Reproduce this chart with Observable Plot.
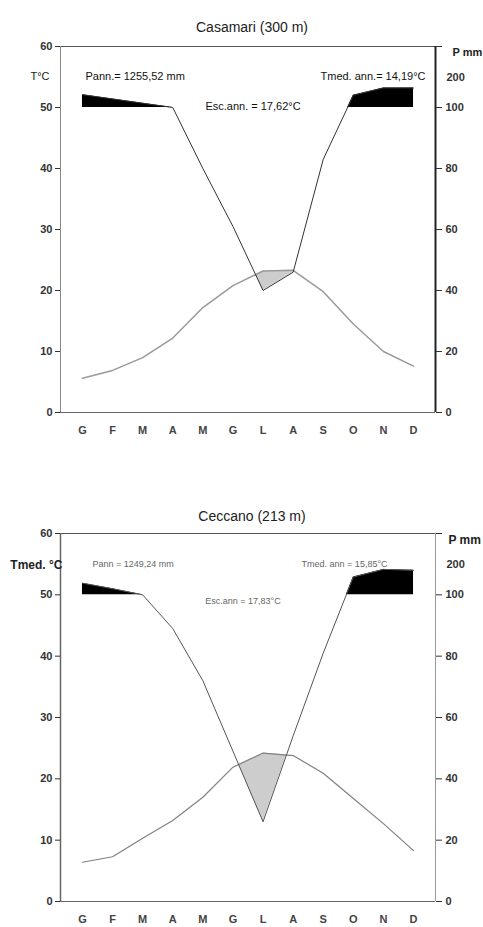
<!DOCTYPE html>
<html><head><meta charset="utf-8">
<script src="https://cdn.jsdelivr.net/npm/d3@7"></script>
<script src="https://cdn.jsdelivr.net/npm/@observablehq/plot@0.6"></script>
<style>body{margin:0;background:#fff} svg{display:block}</style>
</head><body><div id="chart"></div>
<script>
const months = ["G","F","M","A","M","G","L","A","S","O","N","D"];
const tempTicks = [0,10,20,30,40,50,60];
const precTicks = [0,20,40,60,80,100];
const precTopTick = 200;

const casamariTitle = "Casamari (300 m)";
const casamariTemp = [5.6, 6.9, 9.0, 12.2, 17.2, 20.8, 23.2, 23.3, 19.8, 14.5, 10.0, 7.6];
const casamariPrec = [142, 128, 114, 100, 80, 61, 40, 46, 83, 140, 164, 164];
const casamariNotes = ["Pann.= 1255,52 mm", "Tmed. ann.= 14,19°C", "Esc.ann. = 17,62°C"];
const casamariYLabel = "T°C";

const ceccanoTitle = "Ceccano (213 m)";
const ceccanoTemp = [6.4, 7.3, 10.3, 13.2, 17.0, 21.9, 24.2, 23.8, 20.9, 16.8, 12.7, 8.3];
const ceccanoPrec = [138, 120, 100, 89, 72, 49, 26, 54, 81, 158, 183, 180];
const ceccanoNotes = ["Pann = 1249,24 mm", "Tmed. ann = 15,85°C", "Esc.ann = 17,83°C"];
const ceccanoYLabel = "Tmed. °C";
const precLabel = "P mm";

// Walter-Lieth precipitation scale: 1 °C = 2 mm up to 100 mm, then 1 °C = 20 mm
const pScale = p => p <= 100 ? p / 2 : 50 + (p - 100) / 20;
const xDomain = [-0.73, 11.73];
const FONT = '"Liberation Sans", Arial, sans-serif';

function withCrossings(a, b) {
  const out = [];
  for (let i = 0; i < a.length; i++) {
    out.push({x: i, a: a[i], b: b[i]});
    if (i < a.length - 1) {
      const d0 = a[i] - b[i], d1 = a[i+1] - b[i+1];
      if (d0 * d1 < 0) {
        const t = d0 / (d0 - d1);
        out.push({x: i + t, a: a[i] + t * (a[i+1] - a[i]), b: b[i] + t * (b[i+1] - b[i])});
      }
    }
  }
  return out;
}

function panel(o) {
  const pS = o.prec.map(pScale);
  const black = withCrossings(pS, pS.map(() => 50)).map(d => ({x: d.x, y1: 50, y2: Math.max(d.a, 50)}));
  const gray = withCrossings(o.temp, pS).map(d => ({x: d.x, y1: d.b, y2: Math.max(d.a, d.b)}));
  const idx = d3.range(months.length);
  const rightLabels = new Map(precTicks.map(p => [pScale(p), String(p)]));
  return Plot.plot({
    width: 483, height: o.height,
    marginTop: o.mt, marginBottom: o.mb, marginLeft: 60, marginRight: 48,
    x: {type: "linear", domain: xDomain, axis: null},
    y: {domain: [0, 60], axis: null},
    style: {fontFamily: FONT, background: "#fff", overflow: "visible", color: "#222"},
    marks: [
      Plot.areaY(black, {x: "x", y1: "y1", y2: "y2", fill: "#000"}),
      Plot.areaY(gray, {x: "x", y1: "y1", y2: "y2", fill: "#cdcdcd"}),
      Plot.line(idx, {x: i => i, y: i => o.temp[i], stroke: o.tColor, strokeWidth: o.tWidth}),
      Plot.line(idx, {x: i => i, y: i => pS[i], stroke: o.pColor, strokeWidth: 1}),
      Plot.ruleY([0], {stroke: "#666", strokeWidth: 1}),
      Plot.ruleY([60], {stroke: "#555", strokeWidth: 1}),
      Plot.ruleX([xDomain[0]], {y1: 0, y2: 60, stroke: o.leftColor, strokeWidth: o.leftWidth}),
      Plot.ruleX([xDomain[1]], {y1: 0, y2: 60, stroke: o.rightColor, strokeWidth: o.rightWidth}),
      Plot.axisY({anchor: "left", label: null, ticks: tempTicks, tickSize: 5, tickPadding: 3, fontSize: 11, fontWeight: "bold", color: "#333"}),
      Plot.axisY({anchor: "right", label: null, ticks: [...precTicks.map(pScale), 60], tickFormat: v => rightLabels.get(v) ?? "", tickSize: 6, tickPadding: 4, fontSize: 11, fontWeight: "bold", color: "#333"}),
      Plot.axisY({anchor: "right", label: null, ticks: [pScale(precTopTick)], tickFormat: () => String(precTopTick), tickSize: 0, tickPadding: 11, fontSize: 11, fontWeight: "bold", color: "#333"}),
      Plot.axisX({anchor: "bottom", label: null, ticks: idx, tickFormat: i => months[i], tickSize: 0, tickPadding: 14, fontSize: 11, fontWeight: "bold", color: "#444"}),
      Plot.text([o.title], {frameAnchor: "top", dx: 4, dy: o.titleDy, fontSize: 14, fill: "#222"}),
      Plot.text([o.yLabel], {frameAnchor: "top-left", textAnchor: "end", dx: o.yLabelDx, dy: o.noteDy, fontSize: o.yLabelSize, fontWeight: o.yLabelWeight, fill: "#222"}),
      Plot.text([precLabel], {frameAnchor: "top-right", textAnchor: "start", dx: o.pLabelDx, dy: o.pLabelDy, fontSize: o.yLabelSize, fontWeight: "bold", fill: "#222"}),
      Plot.text([o.notes[0]], {frameAnchor: "top-left", textAnchor: "start", dx: o.pannDx, dy: o.noteDy, fontSize: o.noteSize, fill: o.noteColor}),
      Plot.text([o.notes[1]], {frameAnchor: "top-right", textAnchor: "end", dx: o.tmedDx, dy: o.noteDy, fontSize: o.noteSize, fill: o.noteColor}),
      Plot.text([o.notes[2]], {frameAnchor: "top", dx: o.escDx, dy: o.escDy, fontSize: o.escSize, fill: o.noteColor})
    ]
  });
}

const root = document.getElementById("chart");
root.append(panel({
  title: casamariTitle, temp: casamariTemp, prec: casamariPrec, notes: casamariNotes, yLabel: casamariYLabel,
  height: 463, mt: 46, mb: 51, titleDy: -24,
  tColor: "#9a9a9a", tWidth: 1.5, pColor: "#333", leftColor: "#888", leftWidth: 1, rightColor: "#222", rightWidth: 2,
  yLabelDx: -11, yLabelSize: 11, yLabelWeight: "normal", pLabelDx: 17, pLabelDy: 2,
  pannDx: 25, tmedDx: -10, noteDy: 26, noteSize: 11, noteColor: "#111", escDx: 5, escDy: 56, escSize: 11
}));
root.append(panel({
  title: ceccanoTitle, temp: ceccanoTemp, prec: ceccanoPrec, notes: ceccanoNotes, yLabel: ceccanoYLabel,
  height: 464, mt: 70, mb: 26, titleDy: -22,
  tColor: "#808080", tWidth: 1.2, pColor: "#555", leftColor: "#666", leftWidth: 1.5, rightColor: "#999", rightWidth: 1,
  yLabelDx: 2, yLabelSize: 12, yLabelWeight: "bold", pLabelDx: 13, pLabelDy: 2,
  pannDx: 32, tmedDx: -48, noteDy: 27, noteSize: 9, noteColor: "#666", escDx: -5, escDy: 64, escSize: 9
}));
</script></body></html>
